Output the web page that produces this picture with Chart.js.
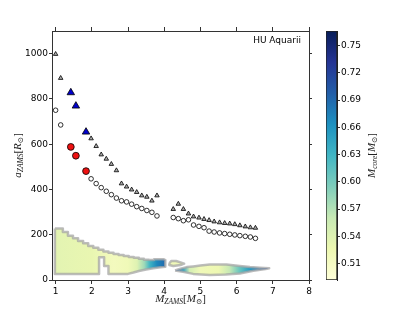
<!DOCTYPE html>
<html><head><meta charset="utf-8">
<script src="https://cdn.jsdelivr.net/npm/chart.js@4/dist/chart.umd.min.js"></script>
<style>
html,body{margin:0;padding:0;background:#fff;}
#wrap{position:relative;width:415px;height:312px;}
#main{position:absolute;left:0;top:0;width:415px;height:312px;}
#cbar{position:absolute;left:300px;top:0;width:115px;height:312px;}
</style></head><body>
<div id="wrap">
<canvas id="main" width="415" height="312"></canvas>
<canvas id="cbar" width="115" height="312"></canvas>
</div>
<script>
// ---- tick labels ----
const xTicks = [1,2,3,4,5,6,7,8];
const yTicks = [0,200,400,600,800,1000];
const cbTicks = [0.51,0.54,0.57,0.60,0.63,0.66,0.69,0.72,0.75];
const cbMin = 0.492, cbMax = 0.766;

// ---- small triangles ----
const triM1 = [1.00,1.14,1.98,2.12,2.26,2.40,2.54,2.68,2.82,2.96,3.10,3.24,3.38,3.52,3.66,3.80];
const triA1 = [998,892,625,591,554,535,512,484,426,412,399,388,373,367,350,373];
const triM2 = [4.25,4.39,4.53,4.67,4.81,4.96,5.10,5.24,5.38,5.53,5.67,5.81,5.95,6.09,6.24,6.38,6.52];
const triA2 = [313,336,313,293,280,275,269,264,258,254,251,249,246,241,236,232,230];
// ---- blue triangles ----
const blueM = [1.42,1.56,1.84];
const blueA = [828,769,654];
// ---- open circles ----
const circM1 = [1.00,1.14,1.98,2.12,2.26,2.40,2.54,2.68,2.82,2.96,3.10,3.24,3.38,3.52,3.66,3.80];
const circA1 = [750,685,447,426,408,392,377,362,350,345,335,324,316,307,299,283];
const circM2 = [4.25,4.39,4.53,4.67,4.81,4.96,5.10,5.24,5.38,5.53,5.67,5.81,5.95,6.09,6.24,6.38,6.52];
const circA2 = [276,271,262,266,243,237,231,216,212,208,205,202,199,196,193,190,184];
// ---- red circles ----
const redM = [1.42,1.56,1.84];
const redA = [588,549,481];

// ---- core-mass regions (outline + core mass along M) ----
const regA_M = [0.98,1.20,1.20,1.34,1.34,1.48,1.48,1.62,1.62,1.76,1.76,1.90,1.90,2.04,2.04,2.18,2.18,2.32,2.32,2.46,2.46,2.60,2.60,2.74,2.74,2.88,2.88,3.02,3.02,3.16,3.16,3.30,3.30,3.44,3.44,3.58,3.58,3.72,3.72,3.98,4.03,4.03,3.90,3.70,3.50,3.30,3.15,3.00,2.46,2.46,2.34,2.34,2.20,2.20,0.98,0.98];
const regA_a = [228,228,212,212,196,196,184,184,172,172,162,162,150,150,142,142,134,134,126,126,120,120,115,115,110,110,106,106,102,102,98,98,94,94,90,90,88,88,92,92,88,58,56,52,46,40,33,27,27,62,62,100,100,27,27,228];
const regA_coreM = [1.0,2.0,2.6,3.0,3.25,3.45,3.6,3.8,4.02];
const regA_core = [0.535,0.53,0.515,0.52,0.54,0.58,0.63,0.67,0.69];

const regB_M = [4.14,4.20,4.33,4.45,4.55,4.45,4.25,4.14,4.14];
const regB_a = [74,84,84,78,72,66,62,66,74];
const regB_coreM = [4.14,4.55];
const regB_core = [0.52,0.52];

const regC_M = [4.30,4.45,4.62,4.80,5.00,5.26,5.72,6.09,6.37,6.64,6.90,6.80,6.46,6.09,5.70,5.26,4.80,4.52,4.30];
const regC_a = [42,50,57,60,64,68,68,62,57,54,52,48,41,29,24,22,27,36,42];
const regC_coreM = [4.30,4.5,4.7,5.0,5.5,5.8,6.1,6.4,6.7,6.9];
const regC_core = [0.71,0.66,0.55,0.52,0.525,0.56,0.61,0.66,0.69,0.72];

// ---- YlGnBu colormap ----
const YLGNBU = [[255,255,217],[237,248,177],[199,233,180],[127,205,187],[65,182,196],[29,145,192],[34,94,168],[37,52,148],[8,29,88]];
function cmap(v){
  let t = (v-cbMin)/(cbMax-cbMin); t = Math.max(0,Math.min(1,t));
  const p = t*(YLGNBU.length-1); const i = Math.min(Math.floor(p), YLGNBU.length-2); const f = p-i;
  const a = YLGNBU[i], b = YLGNBU[i+1];
  return 'rgb('+a.map((c,k)=>Math.round(c+(b[k]-c)*f)).join(',')+')';
}
const zip = (xs,ys)=>xs.map((x,i)=>({x:x,y:ys[i]}));

function regionFill(coreM, core){
  return function(ctx){
    const chart = ctx.chart; if(!chart.chartArea || !chart.scales.x) return 'rgba(0,0,0,0)';
    const sx = chart.scales.x;
    const x0 = sx.getPixelForValue(coreM[0]), x1 = sx.getPixelForValue(coreM[coreM.length-1]);
    const g = chart.ctx.createLinearGradient(x0,0,x1+0.001,0);
    coreM.forEach((m,i)=>{ g.addColorStop(Math.max(0,Math.min(1,(sx.getPixelForValue(m)-x0)/(x1-x0+0.001))), cmap(core[i])); });
    return g;
  };
}
function regionDS(M,A,coreM,core){
  return {type:'line', data:zip(M,A), order:5, fill:'shape', tension:0, pointRadius:0,
    borderColor:'rgba(165,165,165,0.75)', borderWidth:2.5, borderJoinStyle:'round', backgroundColor:regionFill(coreM,core)};
}
function markerDS(M,A,style,r,bg){
  return {type:'scatter', data:zip(M,A), order:0, pointStyle:style, pointRadius:r, pointBackgroundColor:bg,
    pointBorderColor:'#000', pointBorderWidth:0.8};
}

const SERIF = '"Liberation Serif", "DejaVu Serif", serif';
function fontFor(kind){ return kind==='sub' ? 'italic 7.5px '+SERIF : (kind==='up' ? '11px '+SERIF : 'italic 11px '+SERIF); }
function drawMath(ctx, parts, x, y, rot){
  ctx.save();
  ctx.translate(x,y); ctx.rotate(rot||0);
  let w = 0;
  parts.forEach(p=>{ ctx.font = fontFor(p[1]); w += ctx.measureText(p[0]).width; });
  let cx = -w/2;
  ctx.fillStyle = '#222'; ctx.textBaseline = 'alphabetic';
  parts.forEach(p=>{ ctx.font = fontFor(p[1]);
    ctx.fillText(p[0], cx, p[1]==='sub' ? 6 : 3.5); cx += ctx.measureText(p[0]).width; });
  ctx.restore();
}

const titlesPlugin = {
  id:'titles',
  afterDraw(chart){
    const ctx = chart.ctx, ca = chart.chartArea;
    drawMath(ctx, [['M','it'],['ZAMS','sub'],['[','up'],['M','it'],['⊙','sub'],[']','up']], (ca.left+ca.right)/2, 298, 0);
    drawMath(ctx, [['a','it'],['ZAMS','sub'],['[','up'],['R','it'],['⊙','sub'],[']','up']], 17, (ca.top+ca.bottom)/2, -Math.PI/2);
    ctx.save(); ctx.font = '9px "DejaVu Sans"'; ctx.fillStyle = '#000'; ctx.textAlign = 'right'; ctx.textBaseline = 'alphabetic';
    ctx.fillText('HU Aquarii', ca.right-8, ca.top+12); ctx.restore();
  }
};

const tickFont = {family:'"DejaVu Sans"', size:9};
const axisBase = (min,max,ticks,pos,show,size)=>({
  type:'linear', position:pos, min:min, max:max,
  afterBuildTicks: s=>{ s.ticks = ticks.map(v=>({value:v})); },
  afterFit: s=>{ if(pos==='top'||pos==='bottom') s.height=size; else s.width=size; },
  ticks:{display:show, font:tickFont, color:'#000', padding:(pos==='bottom'?2:1), maxRotation:0, autoSkip:false, callback:v=>String(v)},
  grid:{drawOnChartArea:false, drawTicks:true, tickLength:(pos==='bottom'||pos==='top')?4:3, color:'#333', lineWidth:1},
  border:{display:true, color:'#333', width:1}
});

new Chart(document.getElementById('main'), {
  type:'scatter',
  data:{datasets:[
    markerDS(redM,redA,'circle',3.4,'#ee1111'),
    markerDS(blueM,blueA,'triangle',4.3,'#0000cc'),
    markerDS(triM1,triA1,'triangle',2.6,'#aaaaaa'),
    markerDS(triM2,triA2,'triangle',2.6,'#aaaaaa'),
    markerDS(circM1,circA1,'circle',2.3,'#ffffff'),
    markerDS(circM2,circA2,'circle',2.3,'#ffffff'),
    regionDS(regA_M,regA_a,regA_coreM,regA_core),
    regionDS(regB_M,regB_a,regB_coreM,regB_core),
    regionDS(regC_M,regC_a,regC_coreM,regC_core)
  ]},
  options:{
    responsive:false, animation:false, devicePixelRatio:1,
    layout:{padding:0, autoPadding:false},
    plugins:{legend:{display:false}, tooltip:{enabled:false}},
    scales:{
      x: axisBase(0.9,8,xTicks,'bottom',true,32),
      x2: axisBase(0.9,8,xTicks,'top',false,31),
      y: axisBase(0,1100,yTicks,'left',true,52),
      y2: axisBase(0,1100,yTicks,'right',false,106)
    }
  },
  plugins:[titlesPlugin]
});

const cbLabelPlugin = {
  id:'cblabel',
  afterDraw(chart){
    const ca = chart.chartArea;
    drawMath(chart.ctx, [['M','it'],['core','sub'],['[','up'],['M','it'],['⊙','sub'],[']','up']], 71, (ca.top+ca.bottom)/2, -Math.PI/2);
  }
};
new Chart(document.getElementById('cbar'), {
  type:'bar',
  data:{labels:['c'], datasets:[{data:[[cbMin,cbMax]], borderColor:'#222', borderWidth:1, borderSkipped:false,
    barPercentage:1, categoryPercentage:1,
    backgroundColor:function(ctx){
      const chart = ctx.chart, ca = chart.chartArea; if(!ca) return '#fff';
      const sy = chart.scales.y;
      const y0 = sy.getPixelForValue(cbMin), y1 = sy.getPixelForValue(cbMax);
      const g = chart.ctx.createLinearGradient(0,y0,0,y1);
      YLGNBU.forEach((c,i)=>g.addColorStop(i/(YLGNBU.length-1),'rgb('+c.join(',')+')'));
      return g;
    }}]},
  options:{
    responsive:false, animation:false, devicePixelRatio:1,
    layout:{padding:{left:26, top:31, bottom:32, right:0}, autoPadding:false},
    plugins:{legend:{display:false}, tooltip:{enabled:false}},
    scales:{
      x:{display:false},
      y:{position:'right', min:cbMin, max:cbMax,
        afterBuildTicks: s=>{ s.ticks = cbTicks.map(v=>({value:v})); },
        afterFit: s=>{ s.width = 78; },
        ticks:{font:tickFont, color:'#000', padding:1, callback:v=>Number(v).toFixed(2)},
        grid:{drawOnChartArea:false, tickLength:3, color:'#333'},
        border:{display:true, color:'#222', width:1}}
    }
  },
  plugins:[cbLabelPlugin]
});
</script>
</body></html>
